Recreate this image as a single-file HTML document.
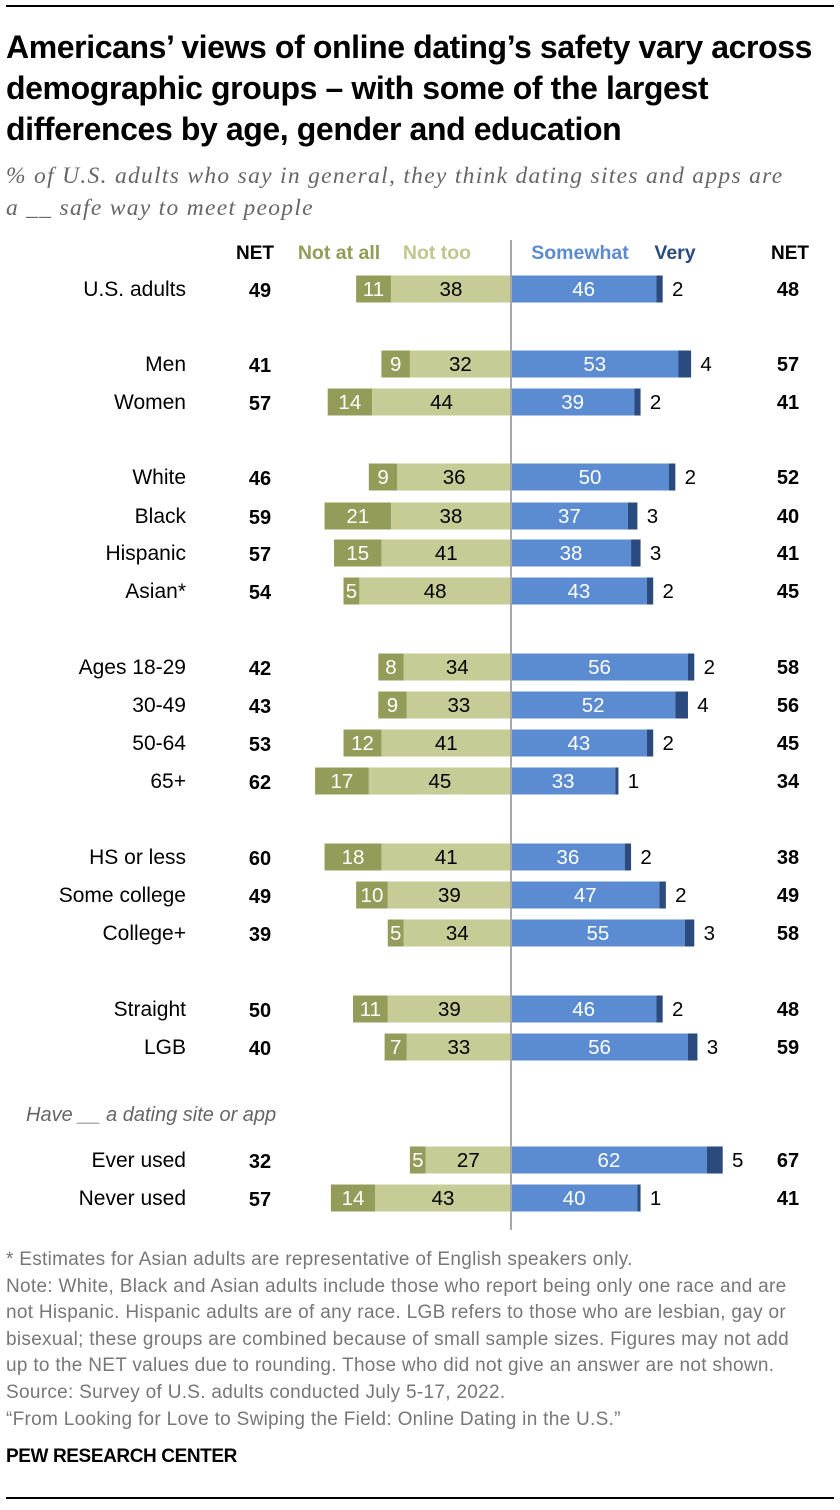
<!DOCTYPE html>
<html><head><meta charset="utf-8">
<style>
body{margin:0;background:#fff;width:840px;height:1510px;overflow:hidden;font-family:"Liberation Sans",sans-serif;}
#root{position:relative;width:840px;height:1510px;}
.t{position:absolute;white-space:nowrap;}
</style></head>
<body>
<div id="root">
<div class="t" style="left:6px;top:5px;width:828px;height:2px;background:#000"></div>
<div class="t" style="left:6px;top:27px;font-size:32px;font-weight:bold;line-height:41px;letter-spacing:-0.4px;color:#000">Americans’ views of online dating’s safety vary across<br>demographic groups – with some of the largest<br>differences by age, gender and education</div>
<div class="t" style="left:6px;top:160px;font-family:'Liberation Serif',serif;font-style:italic;font-size:23.5px;line-height:32px;letter-spacing:1.3px;color:#666">% of U.S. adults who say in general, they think dating sites and apps are<br>a __ safe way to meet people</div>
<svg id="chart" width="840" height="1240" style="position:absolute;left:0;top:0" font-family="Liberation Sans, sans-serif"></svg>
<div class="t" style="left:6px;top:1247px;font-size:19px;line-height:26.6px;color:#777;letter-spacing:0.3px">* Estimates for Asian adults are representative of English speakers only.<br>Note: White, Black and Asian adults include those who report being only one race and are<br>not Hispanic. Hispanic adults are of any race. LGB refers to those who are lesbian, gay or<br>bisexual; these groups are combined because of small sample sizes. Figures may not add<br>up to the NET values due to rounding. Those who did not give an answer are not shown.<br>Source: Survey of U.S. adults conducted July 5-17, 2022.<br>“From Looking for Love to Swiping the Field: Online Dating in the U.S.”</div>
<div class="t" style="left:6px;top:1446px;font-size:19px;font-weight:bold;letter-spacing:-0.4px;color:#000">PEW RESEARCH CENTER</div>
<div class="t" style="left:6px;top:1497px;width:828px;height:2px;background:#000"></div>
</div>
<script>
const categories=["U.S. adults","Men","Women","White","Black","Hispanic","Asian*","Ages 18-29","30-49","50-64","65+","HS or less","Some college","College+","Straight","LGB","Ever used","Never used"];
const notAtAll=[11,9,14,9,21,15,5,8,9,12,17,18,10,5,11,7,5,14];
const notToo=[38,32,44,36,38,41,48,34,33,41,45,41,39,34,39,33,27,43];
const somewhat=[46,53,39,50,37,38,43,56,52,43,33,36,47,55,46,56,62,40];
const very=[2,4,2,2,3,3,2,2,4,2,1,2,2,3,2,3,5,1];
const netUnsafe=[49,41,57,46,59,57,54,42,43,53,62,60,49,39,50,40,32,57];
const netSafe=[48,57,41,52,40,41,45,58,56,45,34,38,49,58,48,59,67,41];
const rowY=[289,364,402,477,516,553,591,667,705,743,781,857,895,933,1009,1047,1160,1198];
const svg=document.getElementById('chart');
const NS='http://www.w3.org/2000/svg';
const cx=511,k=3.16,bh=27;
const x=v=>v*k;
function mk(tag,attrs,txt){const e=document.createElementNS(NS,tag);for(const a in attrs)e.setAttribute(a,attrs[a]);if(txt!==undefined)e.textContent=txt;svg.appendChild(e);return e;}
let h;
h=mk('text',{x:255,y:259,'text-anchor':'middle','font-size':19,'font-weight':'bold',fill:'#000'},'NET');


h=mk('text',{x:339,y:259,'text-anchor':'middle','font-size':19.5,'font-weight':'bold',fill:'#939c58'},'Not at all');


h=mk('text',{x:437,y:259,'text-anchor':'middle','font-size':19.5,'font-weight':'bold',fill:'#c2c68e'},'Not too');


h=mk('text',{x:580,y:259,'text-anchor':'middle','font-size':19.5,'font-weight':'bold',fill:'#5b8bd0'},'Somewhat');


h=mk('text',{x:675,y:259,'text-anchor':'middle','font-size':19.5,'font-weight':'bold',fill:'#2b4a7e'},'Very');


h=mk('text',{x:790,y:259,'text-anchor':'middle','font-size':19,'font-weight':'bold',fill:'#000'},'NET');


h=mk('text',{x:26,y:1121,'font-size':20,'font-style':'italic',fill:'#666'},'Have __ a dating site or app');


categories.forEach((c,i)=>{
  const y=rowY[i],top=y-bh/2;
  let e;
  e=mk('text',{x:186,y:y+7,'text-anchor':'end','font-size':21,fill:'#000'},c);
  
  
  e=mk('text',{x:260,y:y+8,'text-anchor':'middle','font-size':20,'font-weight':'bold',fill:'#000'},netUnsafe[i]);
  
  
  e=mk('text',{x:788,y:y+7,'text-anchor':'middle','font-size':20,'font-weight':'bold',fill:'#000'},netSafe[i]);
  
  
  const ntW=x(notToo[i]),naW=x(notAtAll[i]),swW=x(somewhat[i]),vW=x(very[i]);
  e=mk('rect',{x:cx-ntW,y:top,width:ntW,height:bh,fill:'#c7cb95'});
  
  
  e=mk('rect',{x:cx-ntW-naW,y:top,width:naW,height:bh,fill:'#939c58'});
  
  
  e=mk('rect',{x:cx,y:top,width:swW,height:bh,fill:'#5b8bd0'});
  
  
  e=mk('rect',{x:cx+swW,y:top,width:vW,height:bh,fill:'#2b4a7e'});
  
  
  e=mk('text',{x:cx-ntW/2,y:y+7,'text-anchor':'middle','font-size':20.5,fill:'#000'},notToo[i]);
  
  
  e=mk('text',{x:cx-ntW-naW/2,y:y+7,'text-anchor':'middle','font-size':20.5,fill:'#fff'},notAtAll[i]);
  
  
  e=mk('text',{x:cx+swW/2,y:y+7,'text-anchor':'middle','font-size':20.5,fill:'#fff'},somewhat[i]);
  
  
  e=mk('text',{x:cx+swW+vW+15,y:y+7,'text-anchor':'middle','font-size':20.5,fill:'#000'},very[i]);
  
  
});
const ln=mk('rect',{x:cx-1,y:240,width:2,height:990,fill:'#a8a8a8'});


</script>
</body></html>
